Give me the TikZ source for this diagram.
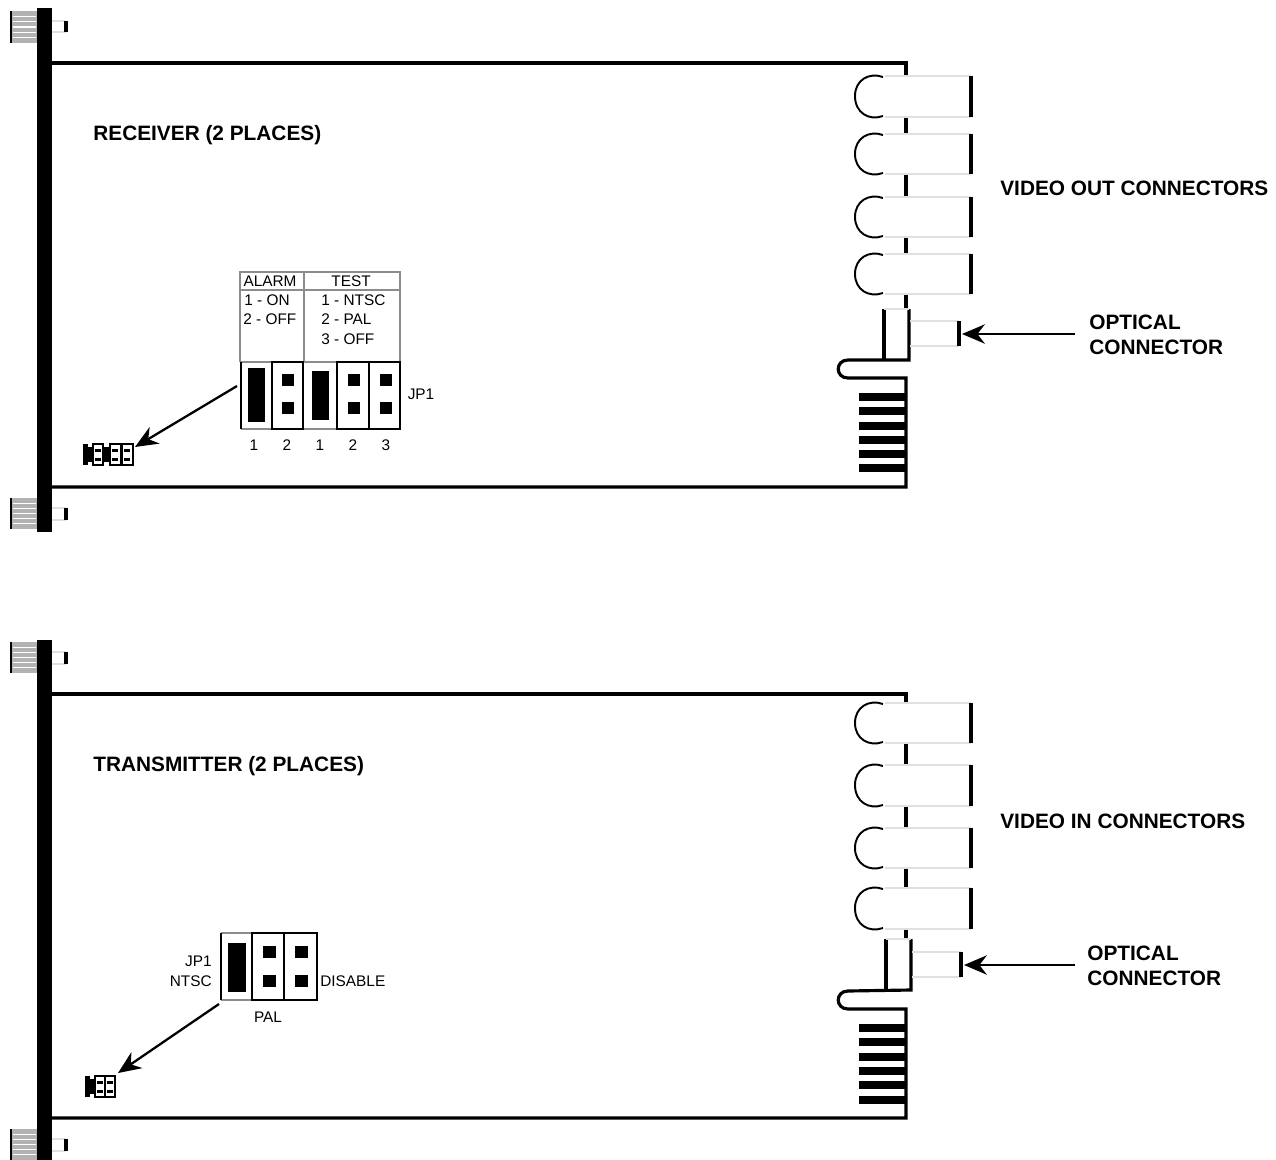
\documentclass[tikz,border=0pt]{standalone}
\usepackage{fontspec}
\setmainfont{Liberation Sans}
\usetikzlibrary{arrows.meta, positioning}
\begin{document}
\begin{tikzpicture}[
x=0.02cm,
y=-0.02cm,
>={Stealth[length=13pt,width=11pt]},
wall/.style={line width=1.8pt},
bar/.style={line width=1.9pt},
thin line/.style={line width=0.6pt, black!12},
table line/.style={line width=0.6pt, black!45},
jumper/.style={line width=1.6pt},
pointer/.style={->, line width=1.3pt},
title/.style={font=\fontsize{11.85}{14}\selectfont\bfseries, anchor=west, inner sep=0pt},
small/.style={font=\fontsize{8.75}{10}\selectfont, inner sep=0pt},
]
\useasboundingbox (0,0) rectangle (1276,1160);

%% front panels and screws
\fill (37,8) rectangle (52,532);
\fill (37,640) rectangle (52,1160);
\foreach \ya/\yb in {11/43, 498/529, 642/673, 1129/1160} {
  \fill[black!30] (12,\ya) rectangle (37,\yb);
  \foreach \f in {0.17,0.33,0.5,0.67,0.83}
    \draw[white, line width=0.6pt] (13,{\ya+\f*(\yb-\ya)}) -- (36,{\ya+\f*(\yb-\ya)});
  \draw[line width=1.3pt] (11,\ya) -- (11,\yb);
}
\foreach \ya/\yb in {21/32, 508/520, 652/664, 1139/1151} {
  \draw[thin line] (52,\ya) -- (66,\ya);
  \draw[thin line] (52,\yb) -- (66,\yb);
  \draw[bar] (66,\ya) -- (66,\yb);
}

%% receiver
% outline
\draw[wall] (52,63) -- (906,63) -- (906,76);
\foreach \ya/\yb in {117/134, 174/197, 237/254, 294/308}
  \draw[wall] (906,\ya) -- (906,\yb);
\draw[wall] (884,309) -- (884,360);
\draw[wall] (909,309) -- (909,360) -- (848,360)
  .. controls (835,360) and (835,378) .. (848,378) -- (906,378) -- (906,487) -- (52,487);
\draw[thin line] (884,309) -- (909,309);
% video connectors
\foreach \ya/\ym/\yb in {76/96/117, 134/154/174, 197/217/237, 254/274/294} {
  \draw[thin line] (885,\ya) -- (971,\ya);
  \draw[thin line] (885,\yb) -- (971,\yb);
  \draw[line width=1.1pt] (883,\ya+1) .. controls (869,\ya-4) and (855,\ya+4) .. (855,\ym)
    .. controls (855,\yb-4) and (869,\yb+4) .. (883,\yb-1);
  \draw[bar] (971,\ya) -- (971,\yb);
}
% optical connector
\draw[thin line] (910,321) -- (959,321);
\draw[thin line] (910,346) -- (959,346);
\draw[bar] (959,321) -- (959,346);
% fins
\foreach \ya in {393,407,422,436,450,464}
  \fill (859,\ya) rectangle (906,\ya+8);
% labels
\node[title] (rxtitle) at (93,135) {RECEIVER (2 PLACES)};
\node[title] (rxvideo) at (1000,188) {VIDEO OUT CONNECTORS};
\node[title] (rxoptical) at (1089,322) {OPTICAL};
\node[title] (rxconnector) at (1089,347) {CONNECTOR};
% jumper table
\draw[table line] (240,362) -- (240,272) -- (400,272) -- (400,362);
\draw[table line] (240,290) -- (400,290);
\draw[table line] (304,272) -- (304,362);
\node[small] (alarm) at (270,281) {ALARM};
\node[small] (test) at (351,281) {TEST};
\node[small, anchor=west] (alarmon) at (244,300) {1 - ON};
\node[small, anchor=west] (alarmoff) at (243,319) {2 - OFF};
\node[small, anchor=west] (testntsc) at (321,300) {1 - NTSC};
\node[small, anchor=west] (testpal) at (321,319) {2 - PAL};
\node[small, anchor=west] (testoff) at (321,339) {3 - OFF};
% jumpers
\draw[table line] (241,362) -- (400,362);
\draw[table line] (241,429) -- (272,429);
\draw[table line] (303,429) -- (337,429);
\draw[jumper] (241,362) -- (241,429);
\draw[jumper] (272,362) rectangle (303,429);
\draw[jumper] (337,362) rectangle (369,429);
\draw[jumper] (369,362) rectangle (400,429);
\fill (248,368) rectangle (265,422);
\fill (312,371) rectangle (329,420);
\foreach \xa in {282,348,380} {
  \fill (\xa,374) rectangle (\xa+12,386);
  \fill (\xa,402) rectangle (\xa+12,414);
}
\node[small] (rxa) at (254,445) {1};
\node[small] (rxb) at (287,445) {2};
\node[small] (rxc) at (320,445) {1};
\node[small] (rxd) at (353,445) {2};
\node[small] (rxe) at (386,445) {3};
\node[small] (rxjp) at (421,394) {JP1};
% small block
\fill (83,444) rectangle (88,465);
\fill (88,447) rectangle (93,462);
\fill (103,447) rectangle (110,462);
\draw[line width=1.2pt] (93,444) rectangle (103,465);
\draw[line width=1.2pt] (110,444) rectangle (133,465);
\draw[line width=1.2pt] (121.5,444) -- (121.5,465);
\foreach \xa in {95,112,124} {
  \fill (\xa,449) rectangle (\xa+6,452);
  \fill (\xa,458) rectangle (\xa+6,461);
}
% arrows
\coordinate (rxfrom) at (237,386);
\coordinate (rxto) at (135,447);
\draw[pointer] (rxfrom) -- (rxto);
\coordinate (rxtail) at (1075,334);
\coordinate (rxhead) at (962,334);
\draw[pointer] (rxtail) -- (rxhead);

%% transmitter
% outline
\draw[wall] (52,694) -- (906,694) -- (906,703);
\foreach \ya/\yb in {743/765, 806/828, 868/888, 929/938}
  \draw[wall] (906,\ya) -- (906,\yb);
\draw[wall] (886,939) -- (886,990);
\draw[wall] (911,939) -- (911,990) -- (848,991)
  .. controls (835,991) and (835,1009) .. (848,1009) -- (906,1009) -- (906,1118) -- (52,1118);
\draw[thin line] (886,939) -- (911,939);
% video connectors
\foreach \ya/\ym/\yb in {703/723/743, 765/785/806, 828/848/868, 888/908/929} {
  \draw[thin line] (885,\ya) -- (971,\ya);
  \draw[thin line] (885,\yb) -- (971,\yb);
  \draw[line width=1.1pt] (883,\ya+1) .. controls (869,\ya-4) and (855,\ya+4) .. (855,\ym)
    .. controls (855,\yb-4) and (869,\yb+4) .. (883,\yb-1);
  \draw[bar] (971,\ya) -- (971,\yb);
}
% optical connector
\draw[thin line] (912,952) -- (961,952);
\draw[thin line] (912,977) -- (961,977);
\draw[bar] (961,952) -- (961,977);
% fins
\foreach \ya in {1024,1038,1053,1067,1081,1096}
  \fill (859,\ya) rectangle (906,\ya+8);
% labels
\node[title] (txtitle) at (93,766) {TRANSMITTER (2 PLACES)};
\node[title] (txvideo) at (1000,821) {VIDEO IN CONNECTORS};
\node[title] (txoptical) at (1087,953) {OPTICAL};
\node[title] (txconnector) at (1087,978) {CONNECTOR};
% jumpers
\draw[table line] (221,933) -- (252,933);
\draw[table line] (221,1000) -- (252,1000);
\draw[jumper] (221,933) -- (221,1000);
\draw[jumper] (252,933) rectangle (284,1000);
\draw[jumper] (284,933) rectangle (317,1000);
\fill (228,943) rectangle (246,992);
\foreach \xa in {263,295} {
  \fill (\xa,946) rectangle (\xa+13,958);
  \fill (\xa,975) rectangle (\xa+13,987);
}
\node[small, anchor=east] (txjp) at (212,961) {JP1};
\node[small, anchor=east] (txntsc) at (212,981) {NTSC};
\node[small, anchor=west] (txdisable) at (320,981) {DISABLE};
\node[small] (txpal) at (268,1017) {PAL};
% small block
\fill (85,1076) rectangle (90,1097);
\fill (90,1079) rectangle (95,1094);
\draw[line width=1.2pt] (95,1076) rectangle (115,1097);
\draw[line width=1.2pt] (105,1076) -- (105,1097);
\foreach \xa in {97,107} {
  \fill (\xa,1081) rectangle (\xa+6,1084);
  \fill (\xa,1090) rectangle (\xa+6,1093);
}
% arrows
\coordinate (txfrom) at (219,1004);
\coordinate (txto) at (118,1073);
\draw[pointer] (txfrom) -- (txto);
\coordinate (txtail) at (1075,965);
\coordinate (txhead) at (964,965);
\draw[pointer] (txtail) -- (txhead);
\end{tikzpicture}
\end{document}
